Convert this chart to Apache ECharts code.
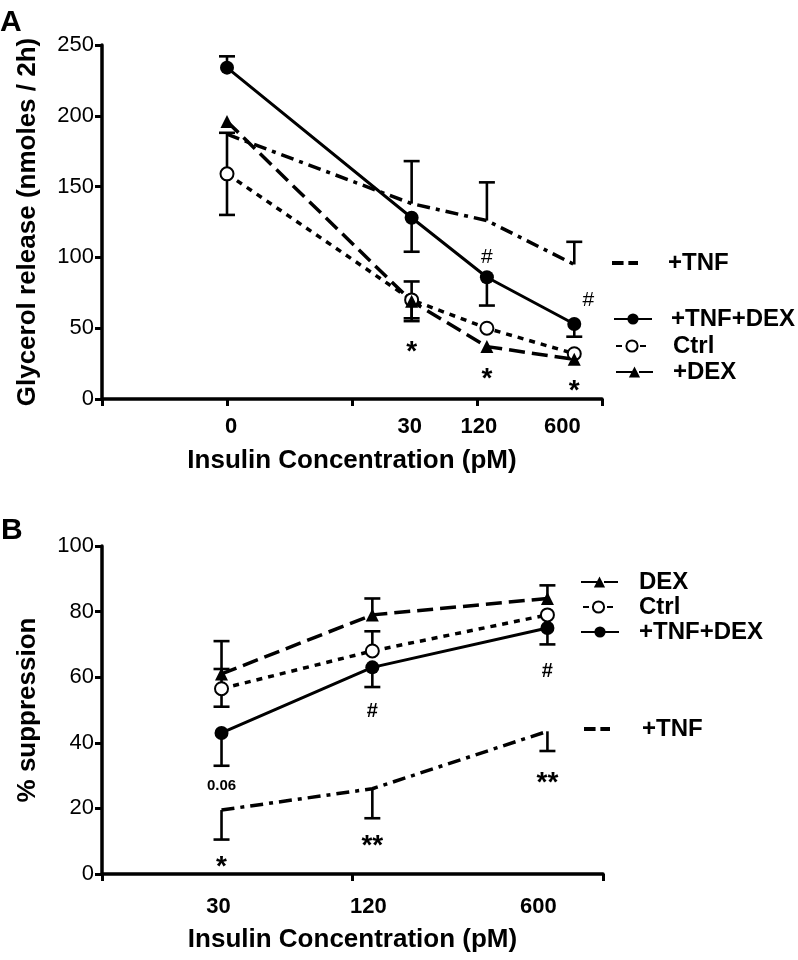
<!DOCTYPE html>
<html><head><meta charset="utf-8">
<script src="https://cdn.jsdelivr.net/npm/echarts@6/dist/echarts.min.js"></script>
<style>html,body{margin:0;padding:0;background:#fff}#c{width:798px;height:960px}</style>
</head><body><div id="c"></div>
<script>
// ---------- Panel A: glycerol release ----------
const concA = [1, 30, 120, 600];            // "0" pM is drawn at 1 on the log axis
const tickLabelsA = ['0', '30', '120', '600'];
const a_TNF = [187, 138, 126, 95];
const a_TNF_hi = [null, 168, 153, 111];
const a_TNF_lo = [null, null, null, null];
const a_TNFDEX = [234, 128, 86, 53];
const a_TNFDEX_hi = [242, null, null, null];
const a_TNFDEX_lo = [null, 104, 66, 44];
const a_Ctrl = [159, 70, 50, 32];
const a_Ctrl_hi = [188, 83, null, null];
const a_Ctrl_lo = [130, 57, null, null];
const a_DEX = [196, 69, 37, 28];
const a_DEX_hi = [null, null, null, null];
const a_DEX_lo = [null, 55, null, null];
const annotA = [[30, 37, '*'], [120, 18, '*'], [600, 10, '*'], [120, 100, '#'], [600, 70, '#']];

// ---------- Panel B: % suppression ----------
const concB = [30, 120, 600];
const tickLabelsB = ['30', '120', '600'];
const b_DEX = [61, 79, 84];
const b_DEX_hi = [71, 84, 88];
const b_Ctrl = [56.5, 68, 79];
const b_Ctrl_hi = [62.5, 74, null];
const b_Ctrl_lo = [51, null, null];
const b_TNFDEX = [43, 63, 75];
const b_TNFDEX_lo = [33, 57, 70];
const b_TNF = [19.5, 26, 43.5];
const b_TNF_lo = [10.5, 17, 37.5];
const annotB = [[30, 27, '0.06'], [30, 4, '*'], [120, 49.5, '#'], [120, 10.4, '**'], [600, 61.6, '#'], [600, 29.6, '**']];

// ---------- styling (not data) ----------
const FONT = '"Liberation Sans", Arial, Helvetica, sans-serif';
const tickLabelOffsetA = [4, -2, -8, -12];
const tickLabelOffsetB = [-3, -4, -9];
const annotOffsetA = [0, 0, 0, 0, 14];

const styles = {
  TNF:    { symbol: 'none', lineStyle: { type: [13, 6, 4, 6], width: 3.5, color: '#000' } },
  TNFDEX: { symbol: 'circle', symbolSize: 14, lineStyle: { type: 'solid', width: 3, color: '#000' } },
  Ctrl:   { symbol: 'emptyCircle', symbolSize: 13, lineStyle: { type: [6, 6], width: 3.5, color: '#000' } },
  DEX:    { symbol: 'triangle', symbolSize: 13, lineStyle: { type: [16, 7], width: 3.5, color: '#000' } }
};

function lineSeries(name, xs, vals, key, gi) {
  const s = styles[key];
  return Object.assign({
    type: 'line', name, xAxisIndex: gi, yAxisIndex: gi, z: 3,
    data: xs.map((x, i) => [x, vals[i]]),
    itemStyle: key === 'Ctrl' ? { color: '#000', borderColor: '#000', borderWidth: 2.5 } : { color: '#000' },
    color: '#000', showSymbol: s.symbol !== 'none', clip: false
  }, s);
}

function errData(xs, vals, ends) {
  const out = [];
  xs.forEach((x, i) => { if (ends[i] != null) out.push([x, vals[i], ends[i]]); });
  return out;
}
function errSeries(data, gi) {
  return {
    type: 'custom', xAxisIndex: gi, yAxisIndex: gi, silent: true, z: 2, data, clip: false,
    renderItem(params, api) {
      const x = api.value(0), v = api.value(1), e = api.value(2);
      const p = api.coord([x, v]), q = api.coord([x, e]);
      const cw = 8;
      return { type: 'group', children: [
        { type: 'line', shape: { x1: p[0], y1: p[1], x2: q[0], y2: q[1] }, style: { stroke: '#000', lineWidth: 2.6 } },
        { type: 'line', shape: { x1: q[0] - cw, y1: q[1], x2: q[0] + cw, y2: q[1] }, style: { stroke: '#000', lineWidth: 2.6 } }
      ]};
    }
  };
}

function tickLabelSeries(xs, labels, offsets, gi, dist) {
  return {
    type: 'scatter', xAxisIndex: gi, yAxisIndex: gi, silent: true, symbolSize: 1, clip: false, z: 5,
    itemStyle: { color: 'transparent', opacity: 1 },
    data: xs.map((x, i) => ({ value: [x, 0], label: { offset: [offsets[i], 0] } })),
    label: { show: true, position: 'bottom', distance: dist, formatter: p => labels[p.dataIndex],
             fontFamily: FONT, fontSize: 22, fontWeight: 'bold', color: '#000', opacity: 1 }
  };
}

function annotStyle(text, panel) {
  if (text.indexOf('*') === 0) return { fontSize: 28, fontWeight: 'bold', dy: 6 };
  if (text === '#') return panel === 'A' ? { fontSize: 21, fontWeight: 'normal', dy: 0 } : { fontSize: 20, fontWeight: 'bold', dy: 0 };
  return { fontSize: 15, fontWeight: 'bold', dy: 0 };
}
function annotSeries(list, offsets, gi, panel) {
  return {
    type: 'scatter', xAxisIndex: gi, yAxisIndex: gi, silent: true, symbolSize: 1, clip: false, z: 5,
    itemStyle: { color: 'transparent', opacity: 1 },
    data: list.map((a, i) => {
      const st = annotStyle(a[2], panel);
      return { value: [a[0], a[1]], label: { show: true, position: 'inside', formatter: a[2], fontFamily: FONT,
        fontSize: st.fontSize, fontWeight: st.fontWeight, color: '#000', opacity: 1,
        offset: [offsets ? offsets[i] : 0, st.dy] } };
    })
  };
}

function leg(name, left, cy, itemWidth, padLeft, icon) {
  return {
    data: [icon ? { name, icon } : { name }], left, top: cy - 13, padding: 0, itemWidth, itemHeight: 14,
    selectedMode: false, itemGap: 0,
    textStyle: { fontFamily: FONT, fontSize: 24, fontWeight: 'bold', color: '#000', padding: [0, 0, 0, padLeft] }
  };
}
const dashIcon = 'path://M0,0H12V4H0Z M17,0H27V4H17Z';

const axisLineSt = { show: true, onZero: false, lineStyle: { color: '#000', width: 3.5 } };
const axisTickSt = { show: true, length: 7, lineStyle: { color: '#000', width: 3 } };
const nameSt = { fontFamily: FONT, fontSize: 26, fontWeight: 'bold', color: '#000' };
const yLabelSt = { fontFamily: FONT, fontSize: 22, color: '#000', margin: 8 };

const option = {
  animation: false,
  backgroundColor: '#fff',
  title: [
    { text: 'A', left: 0, top: 8, padding: 0, textStyle: { fontFamily: FONT, fontSize: 30, fontWeight: 'bold', color: '#000' } },
    { text: 'B', left: 1, top: 516, padding: 0, textStyle: { fontFamily: FONT, fontSize: 30, fontWeight: 'bold', color: '#000' } }
  ],
  grid: [
    { left: 102, top: 45, width: 500, height: 354 },
    { left: 102, top: 546, width: 501, height: 328 }
  ],
  xAxis: [
    { gridIndex: 0, type: 'log', logBase: 10, min: 0.1, max: 1000, name: 'Insulin Concentration (pM)',
      nameLocation: 'middle', nameGap: 49, nameTextStyle: nameSt, axisLine: axisLineSt, axisTick: axisTickSt,
      axisLabel: { show: false }, splitLine: { show: false }, minorTick: { show: false } },
    { gridIndex: 1, type: 'log', logBase: 10, min: 10, max: 1000, name: 'Insulin Concentration (pM)',
      nameLocation: 'middle', nameGap: 53, nameTextStyle: nameSt, axisLine: axisLineSt, axisTick: axisTickSt,
      axisLabel: { show: false }, splitLine: { show: false }, minorTick: { show: false } }
  ],
  yAxis: [
    { gridIndex: 0, type: 'value', min: 0, max: 250, interval: 50, name: 'Glycerol release (nmoles / 2h)',
      nameLocation: 'middle', nameRotate: 90, nameGap: 61, nameTextStyle: nameSt,
      axisLine: axisLineSt, axisTick: axisTickSt, axisLabel: yLabelSt, splitLine: { show: false } },
    { gridIndex: 1, type: 'value', min: 0, max: 100, interval: 20, name: '% suppression',
      nameLocation: 'middle', nameRotate: 90, nameGap: 61, nameTextStyle: nameSt,
      axisLine: axisLineSt, axisTick: axisTickSt, axisLabel: yLabelSt, splitLine: { show: false } }
  ],
  legend: [
    leg('+TNF', 612, 264, 26, 25, dashIcon),
    leg('+TNF+DEX', 613, 320, 38, 14),
    leg('Ctrl', 615, 347, 32, 20),
    leg('+DEX', 615, 373, 37, 15),
    leg('DEX', 580, 583, 37, 16),
    leg('Ctrl', 582, 608, 31, 20),
    leg('+TNF+DEX', 580, 633, 38, 15),
    leg('+TNF', 584, 730, 26, 27, dashIcon)
  ],
  series: [
    // error bars A
    errSeries(errData(concA, a_TNF, a_TNF_hi), 0),
    errSeries(errData(concA, a_TNF, a_TNF_lo), 0),
    errSeries(errData(concA, a_TNFDEX, a_TNFDEX_hi), 0),
    errSeries(errData(concA, a_TNFDEX, a_TNFDEX_lo), 0),
    errSeries(errData(concA, a_Ctrl, a_Ctrl_hi), 0),
    errSeries(errData(concA, a_Ctrl, a_Ctrl_lo), 0),
    errSeries(errData(concA, a_DEX, a_DEX_hi), 0),
    errSeries(errData(concA, a_DEX, a_DEX_lo), 0),
    // lines A
    lineSeries('+TNF', concA, a_TNF, 'TNF', 0),
    lineSeries('+TNF+DEX', concA, a_TNFDEX, 'TNFDEX', 0),
    lineSeries('Ctrl', concA, a_Ctrl, 'Ctrl', 0),
    lineSeries('+DEX', concA, a_DEX, 'DEX', 0),
    tickLabelSeries(concA, tickLabelsA, tickLabelOffsetA, 0, 16),
    annotSeries(annotA, annotOffsetA, 0, 'A'),
    // error bars B
    errSeries(errData(concB, b_DEX, b_DEX_hi), 1),
    errSeries(errData(concB, b_Ctrl, b_Ctrl_hi), 1),
    errSeries(errData(concB, b_Ctrl, b_Ctrl_lo), 1),
    errSeries(errData(concB, b_TNFDEX, b_TNFDEX_lo), 1),
    errSeries(errData(concB, b_TNF, b_TNF_lo), 1),
    // lines B
    lineSeries('DEX', concB, b_DEX, 'DEX', 1),
    lineSeries('Ctrl', concB, b_Ctrl, 'Ctrl', 1),
    lineSeries('+TNF+DEX', concB, b_TNFDEX, 'TNFDEX', 1),
    lineSeries('+TNF', concB, b_TNF, 'TNF', 1),
    tickLabelSeries(concB, tickLabelsB, tickLabelOffsetB, 1, 21),
    annotSeries(annotB, null, 1, 'B')
  ]
};

const chart = echarts.init(document.getElementById('c'), null, { renderer: 'canvas' });
chart.setOption(option);
</script>
</body></html>
